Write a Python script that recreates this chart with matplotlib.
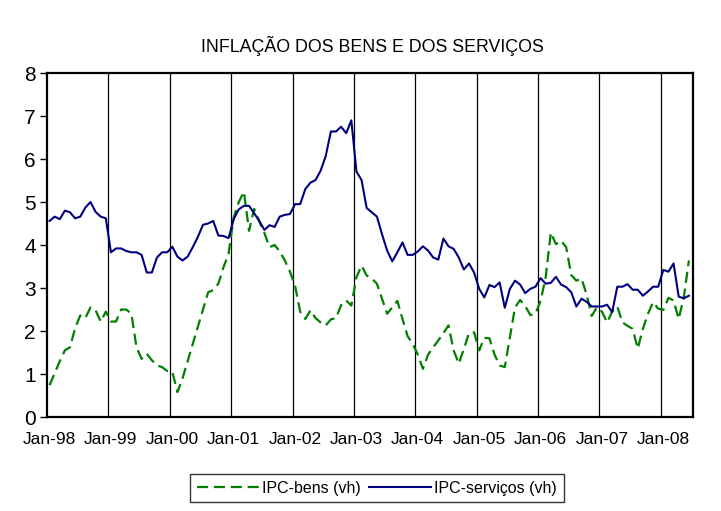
import matplotlib
matplotlib.use("Agg")
import matplotlib.pyplot as plt
from matplotlib.lines import Line2D

# ---- data (monthly, Jan-98 .. Jun-08) ----
tick_labels = ["Jan-98", "Jan-99", "Jan-00", "Jan-01", "Jan-02", "Jan-03",
               "Jan-04", "Jan-05", "Jan-06", "Jan-07", "Jan-08"]

ipc_servicos = [
    4.56, 4.66, 4.60, 4.80, 4.76, 4.62, 4.66, 4.87, 5.00, 4.77, 4.66, 4.62,
    3.83, 3.92, 3.92, 3.86, 3.83, 3.83, 3.77, 3.36, 3.36, 3.71, 3.83, 3.83,
    3.96, 3.73, 3.64, 3.73, 3.95, 4.19, 4.47, 4.50, 4.56, 4.22, 4.21, 4.16,
    4.60, 4.83, 4.91, 4.91, 4.74, 4.56, 4.35, 4.46, 4.42, 4.66, 4.70, 4.72,
    4.95, 4.95, 5.30, 5.45, 5.51, 5.73, 6.07, 6.64, 6.64, 6.75, 6.60, 6.90,
    5.71, 5.51, 4.86, 4.76, 4.66, 4.25, 3.87, 3.62, 3.83, 4.06, 3.77, 3.77,
    3.85, 3.97, 3.87, 3.71, 3.66, 4.15, 3.97, 3.91, 3.71, 3.43, 3.57, 3.36,
    2.98, 2.78, 3.07, 3.02, 3.13, 2.54, 2.98, 3.17, 3.08, 2.88, 2.98, 3.03,
    3.23, 3.10, 3.12, 3.26, 3.08, 3.02, 2.90, 2.57, 2.75, 2.68, 2.57, 2.57,
    2.57, 2.61, 2.44, 3.03, 3.03, 3.09, 2.96, 2.96, 2.82, 2.92, 3.03, 3.03,
    3.42, 3.38, 3.57, 2.80, 2.76, 2.82,
]

ipc_bens = [
    0.74, 1.02, 1.30, 1.55, 1.62, 2.07, 2.36, 2.30, 2.55, 2.48, 2.22, 2.45,
    2.22, 2.22, 2.50, 2.50, 2.40, 1.62, 1.35, 1.47, 1.32, 1.20, 1.16, 1.07,
    1.05, 0.58, 0.90, 1.30, 1.70, 2.10, 2.50, 2.90, 2.95, 3.10, 3.48, 3.80,
    4.64, 5.00, 5.24, 4.33, 4.84, 4.55, 4.28, 3.95, 4.00, 3.85, 3.64, 3.38,
    3.05, 2.45, 2.28, 2.48, 2.30, 2.20, 2.13, 2.27, 2.30, 2.60, 2.71, 2.59,
    3.25, 3.52, 3.29, 3.22, 3.10, 2.75, 2.40, 2.55, 2.70, 2.28, 1.88, 1.70,
    1.45, 1.12, 1.45, 1.62, 1.78, 1.95, 2.13, 1.55, 1.24, 1.58, 1.95, 1.97,
    1.55, 1.84, 1.83, 1.45, 1.20, 1.16, 1.85, 2.55, 2.72, 2.58, 2.37, 2.40,
    2.70, 3.25, 4.29, 4.02, 4.10, 3.95, 3.30, 3.17, 3.22, 2.85, 2.35, 2.55,
    2.45, 2.20, 2.45, 2.57, 2.20, 2.12, 2.05, 1.59, 2.05, 2.40, 2.67, 2.52,
    2.49, 2.77, 2.71, 2.28, 2.78, 3.64,
]

series_names = ["IPC-bens (vh)", "IPC-serviços (vh)"]
title = "INFLAÇÃO DOS BENS E DOS SERVIÇOS"

# ---- style ----
plt.rcParams["font.family"] = ["Liberation Sans", "DejaVu Sans"]
GREEN = "#008000"
NAVY = "#000080"
DASH = (5, 2.6)

fig = plt.figure(figsize=(7.21, 5.11), dpi=100)
ax = fig.add_axes([47 / 721, 1 - 417 / 511, (693 - 47) / 721, (417 - 73) / 511])

x = list(range(len(ipc_servicos)))
ax.plot(x, ipc_bens, color=GREEN, lw=1.6, dashes=DASH, zorder=3)
ax.plot(x, ipc_servicos, color=NAVY, lw=1.5, zorder=4)

n = len(ipc_servicos)
ax.set_xlim(-0.5, n - 0.5 + 0.3)
ax.set_ylim(0, 8)

# vertical year separators
for k in range(1, len(tick_labels)):
    ax.axvline(12 * k - 0.5, color="black", lw=0.9, zorder=1)

ax.set_yticks(range(0, 9))
ax.tick_params(axis="y", labelsize=15, length=5, width=1, direction="out", pad=3)
ax.set_xticks([12 * i for i in range(len(tick_labels))])
ax.set_xticklabels(tick_labels)
ax.tick_params(axis="x", labelsize=12.5, length=0, pad=11)

for s in ax.spines.values():
    s.set_color("black")
    s.set_linewidth(1.6)

fig.text(0.516, 1 - 46 / 511, title, ha="center", va="center", fontsize=12.8)

handles = [Line2D([], [], color=GREEN, lw=1.6, dashes=DASH),
           Line2D([], [], color=NAVY, lw=1.5)]
leg = fig.legend(handles, series_names, loc="center",
                 bbox_to_anchor=(377 / 721, 1 - 488 / 511), ncol=2,
                 fontsize=11.5, frameon=True, fancybox=False, edgecolor="black",
                 handlelength=3.9, handletextpad=0.2, columnspacing=0.5,
                 borderpad=0.4, borderaxespad=0)
leg.get_frame().set_linewidth(1.0)

fig.savefig("out.png", dpi=100, facecolor="white")
